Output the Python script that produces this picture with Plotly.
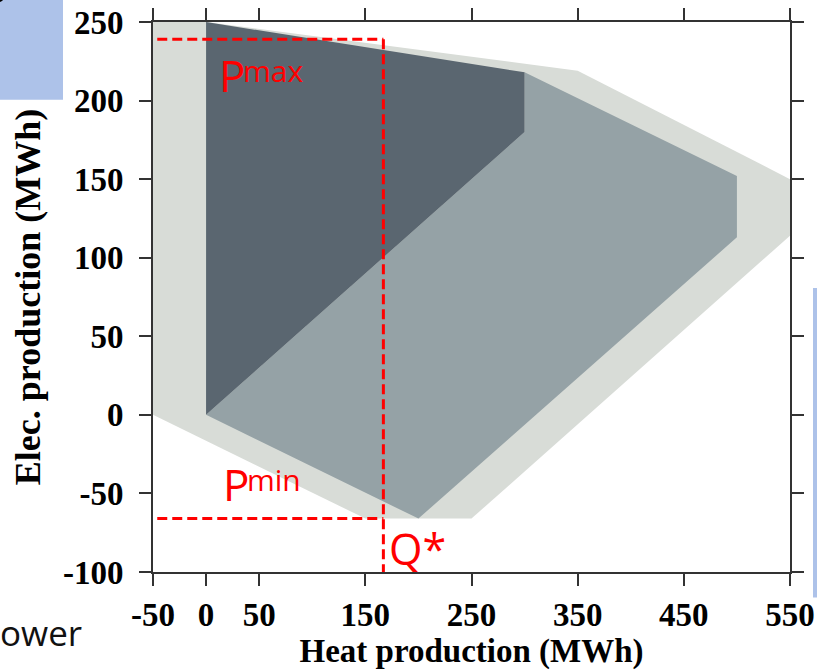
import plotly.graph_objects as go

# ---- data (MWh) ----
outer_x = [-50, 0, 350, 550, 550, 250, 150, -50]
outer_y = [250, 250, 219, 150, 114, -66, -66, 0]

mid_x = [0, 300, 300, 500, 500, 200]
mid_y = [0, 180, 218, 152, 113, -66]

dark_x = [0, 300, 300, 0]
dark_y = [250, 218, 180, 0]

p_max = 239
p_min = -66
q_star = 167
x_start = -46

x_ticks = [-50, 0, 50, 150, 250, 350, 450, 550]
y_ticks = [-100, -50, 0, 50, 100, 150, 200, 250]

fig = go.Figure()
fig.add_trace(go.Scatter(x=outer_x, y=outer_y, fill="toself", mode="lines",
                         line=dict(width=0), fillcolor="#d8dcd7", hoverinfo="skip"))
fig.add_trace(go.Scatter(x=mid_x, y=mid_y, fill="toself", mode="lines",
                         line=dict(width=0), fillcolor="#95a2a6", hoverinfo="skip"))
fig.add_trace(go.Scatter(x=dark_x, y=dark_y, fill="toself", mode="lines",
                         line=dict(width=0), fillcolor="#5a6670", hoverinfo="skip"))

red = dict(color="#ff0000", width=3, dash="10px,5px")
fig.add_trace(go.Scatter(x=[x_start, q_star], y=[p_max, p_max], mode="lines", line=red))
fig.add_trace(go.Scatter(x=[q_star, q_star], y=[p_max, -100], mode="lines", line=red))
fig.add_trace(go.Scatter(x=[x_start, q_star], y=[p_min, p_min], mode="lines", line=red))

lab = dict(family="Open Sans", color="#ff0000")
fig.add_annotation(x=10, y=216, text="P", showarrow=False, xanchor="left", yanchor="middle",
                   font=dict(size=44, **lab))
fig.add_annotation(x=33, y=219, text="max", showarrow=False, xanchor="left", yanchor="middle",
                   font=dict(size=30, **lab))
fig.add_annotation(x=14, y=-44, text="P", showarrow=False, xanchor="left", yanchor="middle",
                   font=dict(size=44, **lab))
fig.add_annotation(x=37, y=-41, text="min", showarrow=False, xanchor="left", yanchor="middle",
                   font=dict(size=30, **lab))
fig.add_annotation(x=170, y=-85, text="Q*", showarrow=False, xanchor="left", yanchor="middle",
                   font=dict(size=43, **lab))

# slide artifacts around the cropped figure
fig.add_shape(type="rect", xref="paper", yref="paper", x0=-153/637, x1=(63-153)/637,
              y0=(571.5-100)/549, y1=(571.5+1)/549, fillcolor="#adc2e9", line=dict(width=0), layer="above")
fig.add_shape(type="rect", xref="paper", yref="paper", x0=(813-153)/637, x1=(817-153)/637,
              y0=(571.5-597)/549, y1=(571.5-288)/549, fillcolor="#adc2e9", line=dict(width=0), layer="above")
fig.add_shape(type="circle", xref="paper", yref="paper", x0=(-24-153)/637, x1=(8-153)/637,
              y0=(571.5-3)/549, y1=(571.5+29)/549, fillcolor="rgba(0,0,0,0)",
              line=dict(color="#000000", width=3), layer="above")
fig.add_annotation(xref="paper", yref="paper", x=(84-153)/637, y=(571.5-632)/549, text="ower",
                   showarrow=False, xanchor="right", yanchor="middle",
                   font=dict(family="Open Sans", size=35, color="#111111"))

tickfont = dict(family="Liberation Serif", size=33, color="#000000", weight="bold")
axis_common = dict(showline=True, linecolor="#333333", linewidth=2, mirror="ticks",
                   ticks="outside", ticklen=12, tickwidth=2, tickcolor="#333333",
                   showgrid=False, zeroline=False, tickfont=tickfont, automargin=False)

fig.update_layout(
    width=817, height=672,
    margin=dict(l=153, r=27, t=22, b=100),
    plot_bgcolor="#ffffff", paper_bgcolor="#ffffff",
    showlegend=False,
    xaxis=dict(range=[-50, 550], tickvals=x_ticks, ticktext=[str(v) for v in x_ticks],
               title=dict(text="Heat production (MWh)", standoff=2,
                          font=dict(family="Liberation Serif", size=33, color="#000000", weight="bold")),
               **axis_common),
    yaxis=dict(range=[-100, 250], tickvals=y_ticks, ticktext=[str(v) for v in y_ticks],
               ticklabelstandoff=9,
               title=dict(text="Elec. production (MWh)", standoff=11,
                          font=dict(family="Liberation Serif", size=36, color="#000000", weight="bold")),
               **axis_common),
)

fig.write_html("out.html")
